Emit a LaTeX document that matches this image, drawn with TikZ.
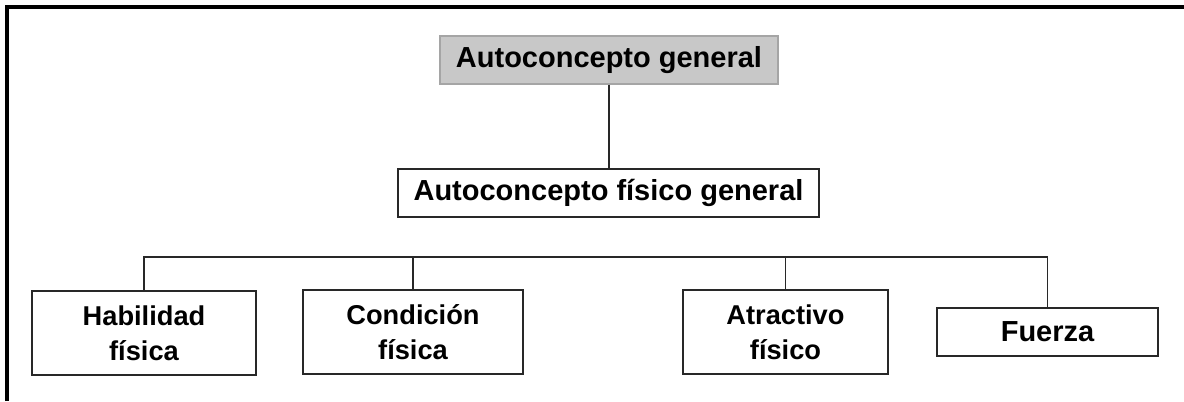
\documentclass[tikz,border=0pt]{standalone}
\usepackage{fontspec}
\setmainfont{Liberation Sans}
\definecolor{mygray}{RGB}{200,200,200}
\definecolor{mygrayline}{RGB}{165,165,165}
\definecolor{mydarkline}{RGB}{40,40,40}
\newcommand{\heightbox}{0.96cm}
\newcommand{\heighttwoline}{1.68cm}
\newcommand{\ybar}{2.88}
\tikzset{
    common/.style={draw=mydarkline, line width=0.8pt, rectangle, inner sep=0pt, align=center,
        font=\fontsize{16.5}{19}\selectfont\bfseries},
    single/.style={common, minimum height=\heightbox},
    twoline/.style={common, minimum height=\heighttwoline, font=\fontsize{15.5}{20}\selectfont\bfseries},
    rootbox/.style={single, fill=mygray, draw=mygrayline},
    link/.style={draw=mydarkline, line width=0.8pt},
    frameline/.style={draw=black, line width=2pt}
}
\begin{document}
\begin{tikzpicture}
    \useasboundingbox (0,0) rectangle (23.68,8.02);
    \draw[frameline] (0.14,0) -- (0.14,7.88) -- (23.68,7.88);

    \node[rootbox, minimum width=6.76cm] (general) at (12.18,6.82) {Autoconcepto general};
    \node[single, minimum width=8.42cm] (fisico) at (12.17,4.16) {Autoconcepto físico general};
    \node[twoline, minimum width=4.48cm] (habilidad) at (2.88,1.36) {Habilidad\\física};
    \node[twoline, minimum width=4.40cm] (condicion) at (8.26,1.38) {Condición\\física};
    \node[twoline, minimum width=4.10cm] (atractivo) at (15.71,1.38) {Atractivo\\físico};
    \node[single, minimum width=4.42cm] (fuerza) at (20.95,1.38) {Fuerza};

    \coordinate (bar) at (0,\ybar);
    \draw[link] (general.south) -- (general.south |- fisico.north);
    \draw[link] (habilidad.north) -- (habilidad.north |- bar) -- (fuerza.north |- bar) -- (fuerza.north);
    \foreach \n in {condicion, atractivo}
        \draw[link] (\n.north) -- (\n.north |- bar);
\end{tikzpicture}
\end{document}
